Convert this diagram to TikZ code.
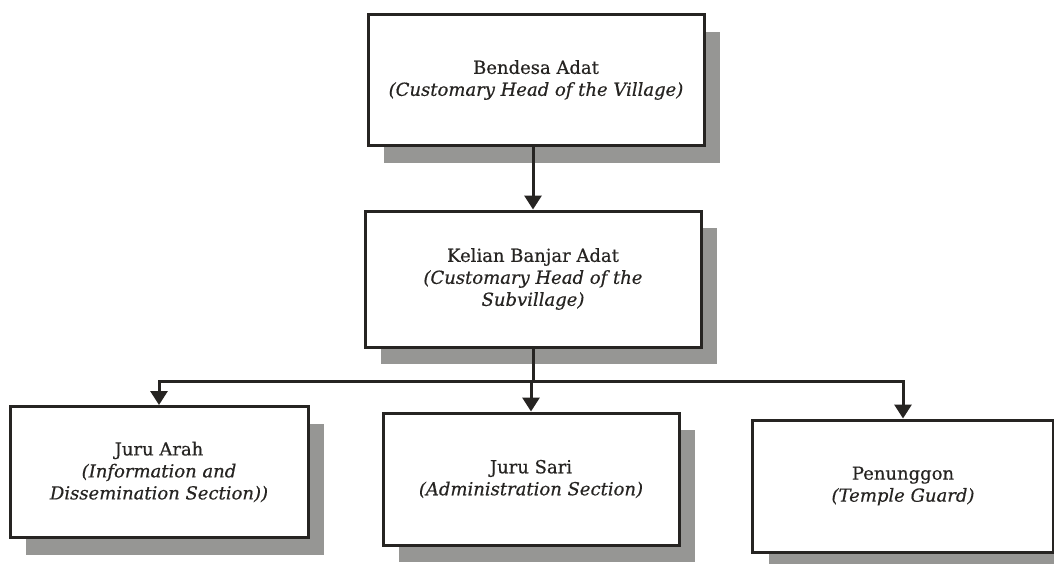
\documentclass[tikz,border=0pt]{standalone}
\usepackage{fontspec}
\setmainfont{DejaVu Serif}[FakeBold=0.5]
\usetikzlibrary{arrows.meta,shadows,calc}
\definecolor{ink}{RGB}{38,36,34}
\definecolor{shade}{RGB}{150,150,148}
\tikzset{
  orgbox/.style={draw=ink, line width=3pt, fill=white, rectangle, align=center,
    inner sep=0pt, text=ink, font=\fontsize{18}{22}\selectfont,
    drop shadow={shadow xshift=16pt, shadow yshift=-17pt, fill=shade, opacity=1}},
  arr/.style={draw=ink, line width=3pt, -{Triangle[width=17pt,length=14pt]}},
  conn/.style={draw=ink, line width=3pt}
}
\begin{document}
\begin{tikzpicture}[x=1pt,y=-1pt]
\useasboundingbox[fill=white] (0,0) rectangle (1054,563);
\node[orgbox, minimum width=336pt, minimum height=131pt] (bendesa) at (536,80)
  {Bendesa Adat\\\textit{(Customary Head of the Village)}};
\node[orgbox, minimum width=336pt, minimum height=136pt] (kelian) at (533,279)
  {Kelian Banjar Adat\\\textit{(Customary Head of the}\\\textit{Subvillage)}};
\node[orgbox, minimum width=298pt, minimum height=131pt] (arah) at (159,472)
  {Juru Arah\\\textit{(Information and}\\\textit{Dissemination Section))}};
\node[orgbox, minimum width=296pt, minimum height=132pt] (sari) at (531,479)
  {Juru Sari\\\textit{(Administration Section)}};
\node[orgbox, minimum width=301pt, minimum height=132pt] (penunggon) at (903,486)
  {Penunggon\\\textit{(Temple Guard)}};
\coordinate (j) at (533,381);
\draw[arr] (kelian.north |- bendesa.south) -- (kelian.north);
\draw[conn] (kelian.south) -- (j);
\draw[arr] (j) -- (sari.north |- j) -- (sari.north);
\draw[arr] (j) -| (arah.north);
\draw[arr] (j) -| (penunggon.north);
\end{tikzpicture}
\end{document}
